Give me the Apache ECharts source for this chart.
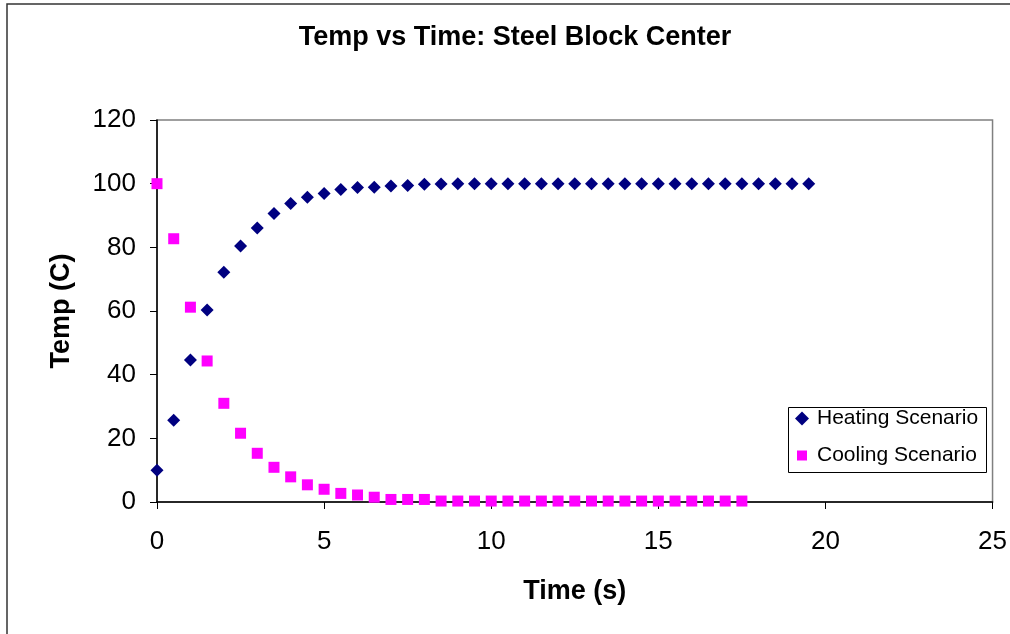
<!DOCTYPE html>
<html><head><meta charset="utf-8">
<script src="https://cdn.jsdelivr.net/npm/echarts@6/dist/echarts.min.js"></script>
<style>html,body{margin:0;padding:0;background:#fff}#c{width:1010px;height:634px}</style>
</head><body><div id="c"></div>
<script>
var heatingTime = [0,0.5,1,1.5,2,2.5,3,3.5,4,4.5,5,5.5,6,6.5,7,7.5,8,8.5,9,9.5,10,10.5,11,11.5,12,12.5,13,13.5,14,14.5,15,15.5,16,16.5,17,17.5,18,18.5,19,19.5];
var heatingTemp = [10.0,25.7,44.6,60.3,72.2,80.4,86.1,90.6,93.8,95.7,96.9,98.2,98.8,98.9,99.3,99.4,99.8,99.9,100,100,100,100,100,100,100,100,100,100,100,100,100,100,100,100,100,100,100,100,100,100];
var coolingTime = [0,0.5,1,1.5,2,2.5,3,3.5,4,4.5,5,5.5,6,6.5,7,7.5,8,8.5,9,9.5,10,10.5,11,11.5,12,12.5,13,13.5,14,14.5,15,15.5,16,16.5,17,17.5];
var coolingTemp = [100,82.7,61.2,44.3,31.0,21.6,15.3,10.9,7.9,5.4,4.0,2.7,2.2,1.5,0.8,0.8,0.8,0.3,0.3,0.3,0.3,0.3,0.3,0.3,0.3,0.3,0.3,0.3,0.3,0.3,0.3,0.3,0.3,0.3,0.3,0.3];
var xTicks = [0,5,10,15,20,25];
var yTicks = [0,20,40,60,80,100,120];

function pairs(xs, ys){ return xs.map(function(x,i){ return [x, ys[i]]; }); }

var chart = echarts.init(document.getElementById('c'), null, {renderer:'canvas'});
var font = 'Liberation Sans, Arial, sans-serif';
chart.setOption({
  animation:false,
  backgroundColor:'#fff',
  textStyle:{fontFamily:font},
  title:{
    text:'Temp vs Time: Steel Block Center',
    left:515, top:24, padding:0, textAlign:'center',
    textStyle:{fontFamily:font, fontSize:27, fontWeight:'bold', color:'#000'}
  },
  graphic:[{
    type:'rect', shape:{x:7, y:4, width:1100, height:700},
    style:{fill:'none', stroke:'#333', lineWidth:1.5}, silent:true, z:0
  },{
    type:'rect', shape:{x:788.5, y:407.5, width:198, height:65},
    style:{fill:'#fff', stroke:'#000', lineWidth:1}, silent:true, z:3
  }],
  grid:{left:157, top:120, right:12, bottom:132, show:true, borderColor:'#808080', borderWidth:1.5, backgroundColor:'transparent'},
  legend:{
    orient:'vertical', left:795, top:408, z:5,
    padding:0, itemGap:16, itemWidth:14, itemHeight:14,
    textStyle:{fontFamily:font, fontSize:21, color:'#000', padding:[0,0,0,3]},
    data:[
      {name:'Heating Scenario', icon:'diamond'},
      {name:'Cooling Scenario', icon:'path://M0,0M14,14M2,2L12,2L12,12L2,12Z'}
    ]
  },
  xAxis:{
    type:'value', min:xTicks[0], max:xTicks[xTicks.length-1], interval:5,
    name:'Time (s)', nameLocation:'middle', nameGap:76,
    nameTextStyle:{fontFamily:font, fontSize:27, fontWeight:'bold', color:'#000'},
    axisLine:{show:true, onZero:false, lineStyle:{color:'#000', width:1.5}},
    axisTick:{show:true, inside:false, length:7, lineStyle:{color:'#000', width:1}},
    axisLabel:{margin:27, fontFamily:font, fontSize:26, color:'#000'},
    splitLine:{show:false}
  },
  yAxis:{
    type:'value', min:yTicks[0], max:yTicks[yTicks.length-1], interval:20,
    name:'Temp (C)', nameLocation:'middle', nameGap:82,
    nameTextStyle:{fontFamily:font, fontSize:27, fontWeight:'bold', color:'#000'},
    axisLine:{show:true, onZero:false, lineStyle:{color:'#000', width:1.5}},
    axisTick:{show:true, inside:false, length:7, lineStyle:{color:'#000', width:1}},
    axisLabel:{margin:21, fontFamily:font, fontSize:26, color:'#000'},
    splitLine:{show:false}
  },
  series:[
    {name:'Heating Scenario', type:'scatter', symbol:'diamond', symbolSize:13,
     itemStyle:{color:'#000080', opacity:1}, data:pairs(heatingTime, heatingTemp), z:3},
    {name:'Cooling Scenario', type:'scatter', symbol:'rect', symbolSize:11,
     itemStyle:{color:'#FF00FF', opacity:1}, data:pairs(coolingTime, coolingTemp), z:4}
  ]
});
</script></body></html>
